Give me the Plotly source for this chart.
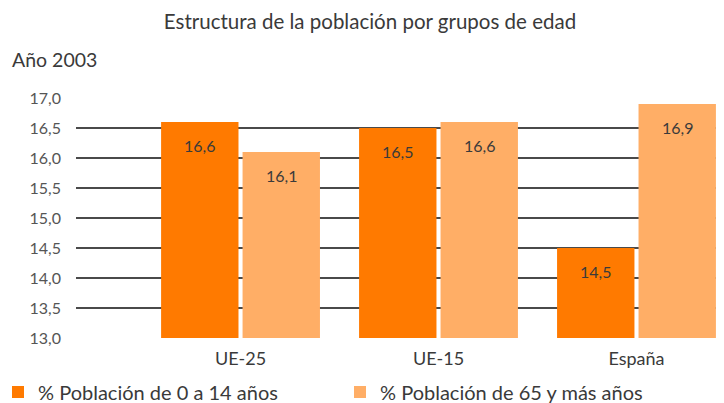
import plotly.graph_objects as go

categories = ["UE-25", "UE-15", "España"]
young = [16.6, 16.5, 14.5]
old = [16.1, 16.6, 16.9]
series_names = ["% Población de 0 a 14 años", "% Población de 65 y más años"]
tick_vals = [13.0, 13.5, 14.0, 14.5, 15.0, 15.5, 16.0, 16.5, 17.0]

dark = "#FF7A00"
light = "#FFAE66"
txt = "#3a3a3a"
font_family = "Lato, 'Open Sans', sans-serif"

# page has an 8px body margin; figure is sized to fill the rest of the window
OFF = 8
FW, FH = 724 - OFF, 403 - OFF
L, R, T, B = 76 - OFF, 0, 98 - OFF, 65
W, H = FW - L - R, FH - T - B


def px_x(px):
    return (px - OFF - L) / W


def px_y(py):
    return (FH - B - (py - OFF)) / H


fig = go.Figure()
fig.add_trace(go.Bar(x=categories, y=young, name=series_names[0], legend="legend",
                     marker=dict(color=dark, line=dict(width=0)), hoverinfo="skip"))
fig.add_trace(go.Bar(x=categories, y=old, name=series_names[1], legend="legend2",
                     marker=dict(color=light, line=dict(width=0)), hoverinfo="skip"))

# value labels inside bars, near top
bargap = 0.177
off = (1 - bargap) / 4
for i, (a, b) in enumerate(zip(young, old)):
    for xo, v in ((-off, a), (off, b)):
        fig.add_annotation(x=i + xo, y=v, xref="x", yref="y",
                           text=f"{v:.1f}".replace(".", ","), showarrow=False,
                           yshift=-23, font=dict(size=16, color=txt, family=font_family))

fig.add_annotation(x=px_x(10), y=px_y(60), xref="paper", yref="paper", text="Año 2003",
                   showarrow=False, xanchor="left", yanchor="middle",
                   font=dict(size=19.5, color=txt, family=font_family))

legend_common = dict(orientation="h", xanchor="left", yref="container",
                     y=1 - (392 - OFF) / FH, yanchor="middle",
                     font=dict(size=20, color=txt, family=font_family),
                     bgcolor="rgba(0,0,0,0)")

fig.update_layout(
    width=FW, height=FH,
    margin=dict(l=L, r=R, t=T, b=B, autoexpand=False),
    paper_bgcolor="white", plot_bgcolor="white",
    separators=",.",
    barmode="group", bargap=bargap, bargroupgap=0.05,
    title=dict(text="Estructura de la población por grupos de edad",
               x=px_x(370), xref="paper", xanchor="center",
               y=1 - (22 - OFF) / FH, yanchor="middle",
               font=dict(size=20.5, color=txt, family=font_family)),
    font=dict(family=font_family, color=txt),
    showlegend=True,
    legend=dict(x=px_x(-2), **legend_common),
    legend2=dict(x=px_x(340), **legend_common),
    xaxis=dict(type="category", range=[-0.831, 2.442], showgrid=False, showline=False,
               ticks="", ticklabelstandoff=8, automargin=False,
               tickfont=dict(size=18, color=txt, family=font_family),
               fixedrange=True),
    yaxis=dict(range=[13.0, 17.0], tickvals=tick_vals, tickformat=".1f",
               showgrid=True, gridcolor="#4a4a4a", gridwidth=1.5,
               zeroline=False, showline=False, ticks="", automargin=False,
               ticklabelstandoff=14,
               tickfont=dict(size=16, color="#555555", family=font_family),
               fixedrange=True),
)

fig.write_html("out.html")
